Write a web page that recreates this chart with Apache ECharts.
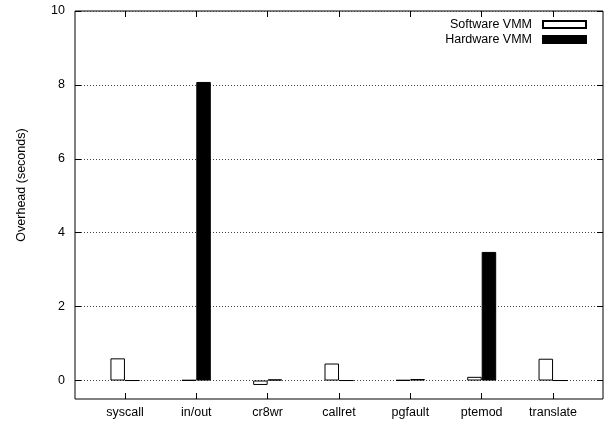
<!DOCTYPE html>
<html>
<head>
<meta charset="utf-8">
<script src="https://cdn.jsdelivr.net/npm/echarts@6/dist/echarts.min.js"></script>
<style>
html,body{margin:0;padding:0;background:#fff;}
#chart{width:607px;height:427px;}
</style>
</head>
<body>
<div id="chart"></div>
<script>
var categories = ['syscall', 'in/out', 'cr8wr', 'callret', 'pgfault', 'ptemod', 'translate'];
var softwareVMM = [0.6, 0.01, -0.12, 0.46, 0.01, 0.1, 0.59];
var hardwareVMM = [0, 8.08, 0.03, 0, 0.04, 3.48, 0];
var yTicks = [0, 2, 4, 6, 8, 10];
var seriesNames = ['Software VMM', 'Hardware VMM'];

var xIdx = categories.map(function (c, i) { return i; });
function pairs(vals) { return vals.map(function (v, i) { return [i, v]; }); }

var font = 'Liberation Sans, Arial, Helvetica, sans-serif';
var chart = echarts.init(document.getElementById('chart'), null, {renderer: 'canvas'});

var xCommon = {
  type: 'value', min: -0.7, max: 6.7,
  axisLine: {show: false, onZero: false},
  splitLine: {show: false},
  axisTick: {show: true, inside: true, length: 6, customValues: xIdx, lineStyle: {color: '#000', width: 1}}
};
var yCommon = {
  type: 'value', min: -0.5, max: 10,
  axisLine: {show: false, onZero: false},
  axisTick: {show: true, inside: true, length: 6, customValues: yTicks, lineStyle: {color: '#000', width: 1}}
};

chart.setOption({
  animation: false,
  backgroundColor: '#fff',
  grid: {left: 75, right: 4, top: 11, bottom: 28, show: true, borderColor: '#000', borderWidth: 1, backgroundColor: 'transparent'},
  legend: {
    data: seriesNames,
    orient: 'vertical', align: 'right',
    right: 15, top: 13,
    itemWidth: 43, itemHeight: 7, itemGap: 2, icon: 'rect',
    textStyle: {fontFamily: font, fontSize: 12.5, color: '#000', padding: [0, 6, 0, 0]}
  },
  xAxis: [
    Object.assign({}, xCommon, {
      position: 'bottom',
      axisLabel: {show: true, customValues: xIdx, margin: 7, color: '#000', fontFamily: font, fontSize: 12.5,
        formatter: function (v) { return categories[Math.round(v)]; }}
    }),
    Object.assign({}, xCommon, {position: 'top', axisLabel: {show: false}})
  ],
  yAxis: [
    Object.assign({}, yCommon, {
      position: 'left',
      name: 'Overhead (seconds)', nameLocation: 'middle', nameGap: 47,
      nameTextStyle: {fontFamily: font, fontSize: 12.5, color: '#000', padding: [0, 0, 0, 40]},
      axisLabel: {show: true, customValues: yTicks, margin: 10, color: '#000', fontFamily: font, fontSize: 12.5},
      splitLine: {show: true, lineStyle: {color: '#444', width: 1, type: [1, 2]}}
    }),
    Object.assign({}, yCommon, {position: 'right', axisLabel: {show: false}, splitLine: {show: false}})
  ],
  series: [
    {
      name: seriesNames[0], type: 'bar', xAxisIndex: 0, yAxisIndex: 0,
      data: pairs(softwareVMM), barWidth: 14.5, barGap: '0%',
      itemStyle: {color: '#fff', borderColor: '#000', borderWidth: 1}
    },
    {
      name: seriesNames[1], type: 'bar', xAxisIndex: 0, yAxisIndex: 0,
      data: pairs(hardwareVMM), barWidth: 14.5, barGap: '0%',
      itemStyle: {color: '#000', borderColor: '#000', borderWidth: 1}
    }
  ]
});
</script>
</body>
</html>
